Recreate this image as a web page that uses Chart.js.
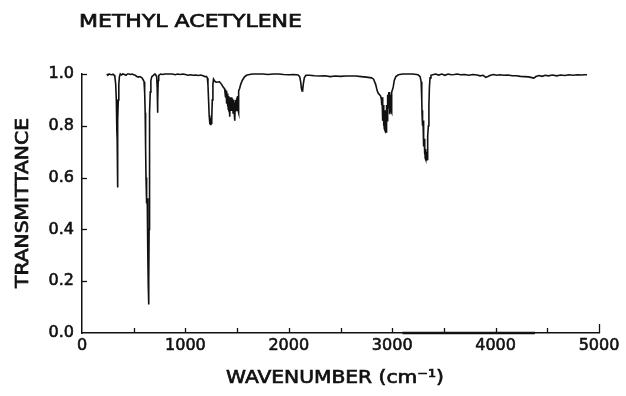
<!DOCTYPE html>
<html>
<head>
<meta charset="utf-8">
<title>Methyl acetylene IR spectrum</title>
<script src="https://cdn.jsdelivr.net/npm/chart.js@4/dist/chart.umd.min.js"></script>
<style>
  html, body { margin: 0; padding: 0; background: #fff; }
  canvas { display: block; }
</style>
</head>
<body>
<canvas id="spectrum" width="626" height="396"></canvas>
<script>
'use strict';

// ── Data ──────────────────────────────────────────────────────────────────
const CHART_TITLE = 'METHYL ACETYLENE';
const X_TITLE     = 'WAVENUMBER (cm⁻¹)';
const Y_TITLE     = 'TRANSMITTANCE';

const X_TICKS = [0, 1000, 2000, 3000, 4000, 5000];
const X_MINOR = [500, 1500, 2500, 3500, 4500];
const Y_TICKS = [0.0, 0.2, 0.4, 0.6, 0.8, 1.0];

// wavenumber (cm-1) — rows line up with TRANSMITTANCE rows below
const WAVENUMBER = [
  240, 250, 262, 275, 290, 300, 312, 318, 326, 332,
  336, 338, 340, 342, 344, 346, 348, 351, 356, 362,
  370, 380, 395, 410, 425, 440, 455, 470, 485, 500,
  515, 530, 545, 560, 580, 595, 600, 606, 611, 615,
  619, 623, 627, 631, 635, 638, 641, 644, 647, 649,
  651, 653, 656, 660, 666, 675, 690, 705, 715, 722,
  727, 730, 732, 734, 737, 742, 760, 780, 800, 825,
  850, 875, 900, 925, 950, 975, 1000, 1025, 1050, 1075,
  1100, 1125, 1150, 1170, 1190, 1205, 1212, 1218, 1224, 1230,
  1236, 1242, 1247, 1251, 1255, 1260, 1266, 1272, 1280, 1290,
  1300, 1330, 1350, 1365, 1375, 1380, 1384, 1387, 1390, 1393,
  1396, 1399, 1402, 1405, 1408, 1411, 1414, 1417, 1420, 1423,
  1426, 1429, 1431, 1434, 1437, 1440, 1443, 1446, 1449, 1452,
  1455, 1458, 1461, 1464, 1467, 1470, 1473, 1476, 1479, 1482,
  1485, 1488, 1491, 1494, 1497, 1500, 1503, 1506, 1509, 1512,
  1515, 1518, 1525, 1535, 1550, 1570, 1590, 1620, 1650, 1700,
  1750, 1800, 1850, 1900, 1950, 2000, 2050, 2090, 2105, 2115,
  2122, 2128, 2134, 2140, 2150, 2165, 2200, 2250, 2300, 2350,
  2400, 2450, 2500, 2550, 2600, 2650, 2700, 2750, 2800, 2820,
  2840, 2855, 2866, 2878, 2888, 2896, 2899, 2902, 2905, 2908,
  2911, 2914, 2917, 2920, 2923, 2926, 2929, 2932, 2935, 2938,
  2941, 2944, 2947, 2950, 2953, 2956, 2959, 2962, 2965, 2968,
  2971, 2974, 2977, 2980, 2983, 2986, 2989, 2992, 2995, 2998,
  3003, 3010, 3020, 3035, 3060, 3100, 3150, 3200, 3250, 3270,
  3280, 3286, 3289, 3292, 3295, 3298, 3301, 3304, 3307, 3310,
  3313, 3316, 3319, 3322, 3325, 3328, 3331, 3334, 3337, 3340,
  3343, 3346, 3350, 3355, 3360, 3366, 3375, 3400, 3420, 3450,
  3480, 3510, 3540, 3570, 3600, 3630, 3660, 3700, 3740, 3780,
  3820, 3850, 3880, 3905, 3925, 3950, 3980, 4010, 4040, 4080,
  4120, 4160, 4200, 4240, 4280, 4320, 4350, 4370, 4390, 4420,
  4450, 4480, 4510, 4550, 4590, 4630, 4670, 4710, 4750, 4790,
  4830, 4860, 4884
];

// transmittance (0..1)
const TRANSMITTANCE = [
  1.000, 0.995, 1.000, 0.998, 0.997, 0.999, 0.995, 0.990, 0.960, 0.900,
  0.850, 0.780, 0.750, 0.620, 0.562, 0.700, 0.820, 0.900, 0.960, 0.990,
  1.000, 0.996, 1.000, 0.998, 0.995, 1.000, 1.000, 0.998, 1.000, 0.997,
  0.995, 0.990, 0.988, 0.990, 0.985, 0.975, 0.970, 0.930, 0.850, 0.720,
  0.600, 0.520, 0.500, 0.520, 0.430, 0.300, 0.180, 0.110, 0.200, 0.400,
  0.600, 0.750, 0.850, 0.930, 0.975, 0.990, 0.995, 1.000, 0.995, 0.990,
  0.950, 0.870, 0.850, 0.900, 0.975, 0.995, 1.000, 0.998, 1.000, 1.000,
  1.000, 1.000, 0.997, 1.000, 0.998, 1.000, 0.998, 0.995, 0.997, 0.995,
  0.996, 0.994, 0.996, 0.993, 0.990, 0.990, 0.985, 0.960, 0.900, 0.840,
  0.810, 0.805, 0.830, 0.810, 0.830, 0.900, 0.960, 0.980, 0.975, 0.970,
  0.968, 0.970, 0.960, 0.950, 0.945, 0.940, 0.925, 0.940, 0.910, 0.935,
  0.900, 0.930, 0.885, 0.925, 0.875, 0.920, 0.865, 0.915, 0.860, 0.910,
  0.855, 0.900, 0.835, 0.905, 0.860, 0.910, 0.860, 0.910, 0.865, 0.905,
  0.860, 0.900, 0.850, 0.895, 0.855, 0.900, 0.845, 0.830, 0.820, 0.890,
  0.855, 0.900, 0.860, 0.905, 0.865, 0.910, 0.870, 0.915, 0.860, 0.850,
  0.920, 0.935, 0.945, 0.960, 0.975, 0.988, 0.995, 0.998, 1.000, 1.000,
  1.000, 0.998, 1.000, 1.000, 0.998, 0.997, 0.998, 0.996, 0.990, 0.970,
  0.945, 0.935, 0.938, 0.960, 0.985, 0.995, 0.995, 0.993, 0.992, 0.993,
  0.990, 0.992, 0.991, 0.992, 0.992, 0.992, 0.990, 0.988, 0.985, 0.980,
  0.960, 0.935, 0.925, 0.920, 0.915, 0.900, 0.880, 0.910, 0.860, 0.900,
  0.820, 0.880, 0.800, 0.860, 0.790, 0.850, 0.785, 0.860, 0.780, 0.840,
  0.776, 0.830, 0.880, 0.820, 0.890, 0.850, 0.920, 0.870, 0.930, 0.880,
  0.930, 0.850, 0.845, 0.910, 0.860, 0.920, 0.855, 0.850, 0.920, 0.930,
  0.940, 0.950, 0.975, 0.990, 0.997, 1.000, 1.000, 1.000, 0.997, 0.990,
  0.970, 0.900, 0.840, 0.860, 0.800, 0.820, 0.750, 0.780, 0.720, 0.750,
  0.690, 0.720, 0.675, 0.710, 0.670, 0.700, 0.665, 0.690, 0.670, 0.720,
  0.700, 0.760, 0.800, 0.880, 0.950, 0.985, 0.995, 0.998, 1.000, 0.996,
  1.000, 0.995, 1.000, 0.997, 0.998, 1.000, 0.997, 0.998, 0.995, 0.998,
  0.996, 0.993, 0.995, 0.987, 0.990, 0.995, 0.998, 0.995, 0.997, 0.995,
  0.996, 0.993, 0.993, 0.991, 0.990, 0.989, 0.986, 0.984, 0.990, 0.994,
  0.991, 0.995, 0.993, 0.996, 0.993, 0.996, 0.994, 0.997, 0.995, 0.997,
  0.996, 0.997, 0.997
];

// recorder zero trace that sits on the x axis between ~3100 and ~4380
const ZERO_TRACE_W = [3100, 4380];
const ZERO_TRACE_T = [0.0, 0.0];

// ── Style ─────────────────────────────────────────────────────────────────
const INK  = '#111111';
const FONT = '"DejaVu Sans", "Liberation Sans", Arial, sans-serif';

function toPoints(xs, ys) {
  return xs.map(function (x, i) { return { x: x, y: ys[i] }; });
}

// Draw text stretched to a fixed width (the scan uses an extended face).
// A thin stroke thickens the glyphs a little, like the photocopied original.
function drawWideText(ctx, text, cx, cy, width, size, angle) {
  ctx.save();
  ctx.font = size + 'px ' + FONT;
  const natural = ctx.measureText(text).width;
  ctx.translate(cx, cy);
  if (angle) ctx.rotate(angle);
  ctx.scale(width / natural, 1);
  ctx.textAlign = 'center';
  ctx.textBaseline = 'middle';
  ctx.fillStyle = INK;
  ctx.strokeStyle = INK;
  ctx.lineWidth = 0.7;
  ctx.fillText(text, 0, 0);
  ctx.strokeText(text, 0, 0);
  ctx.restore();
}

// Inward tick marks + titles, drawn over the library's axes.
const spectrumDecor = {
  id: 'spectrumDecor',
  beforeDraw(chart) {
    const ctx = chart.ctx;
    ctx.save();
    ctx.fillStyle = '#fff';
    ctx.fillRect(0, 0, chart.width, chart.height);
    ctx.restore();
  },
  afterDraw(chart) {
    const { ctx, scales } = chart;
    const x = scales.x;
    const y = scales.y;

    ctx.save();
    ctx.strokeStyle = INK;
    ctx.lineWidth = 1.3;

    X_TICKS.concat(X_MINOR).forEach(function (v) {
      if (v === 0) return;
      const px = Math.round(x.getPixelForValue(v)) + 0.5;
      ctx.beginPath();
      ctx.moveTo(px, y.bottom);
      ctx.lineTo(px, y.bottom - (v === 5000 ? 9 : 5));
      ctx.stroke();
    });

    Y_TICKS.forEach(function (v) {
      if (v === 0) return;
      const py = Math.round(y.getPixelForValue(v)) + 0.5;
      ctx.beginPath();
      ctx.moveTo(x.left, py);
      ctx.lineTo(x.left + 5, py);
      ctx.stroke();
    });
    ctx.restore();

    drawWideText(ctx, CHART_TITLE, 79 + 223 / 2, 22, 223, 18, 0);
    drawWideText(ctx, X_TITLE, 335, 378, 218, 18, 0);
    drawWideText(ctx, Y_TITLE, 23, 203, 170, 18, -Math.PI / 2);
  },
};

const tickFont = { family: FONT, size: 16 };

// ── Chart ─────────────────────────────────────────────────────────────────
new Chart(document.getElementById('spectrum'), {
  type: 'line',
  data: {
    datasets: [
      {
        label: 'Transmittance',
        data: toPoints(WAVENUMBER, TRANSMITTANCE),
        borderColor: INK,
        borderWidth: 1.6,
        pointRadius: 0,
        tension: 0,
        fill: false,
        clip: 5,
      },
      {
        label: 'Zero trace',
        data: toPoints(ZERO_TRACE_W, ZERO_TRACE_T),
        borderColor: INK,
        borderWidth: 2.4,
        pointRadius: 0,
        fill: false,
        clip: 5,
      },
    ],
  },
  options: {
    responsive: false,
    devicePixelRatio: 1,
    animation: false,
    parsing: false,
    layout: { padding: { top: 74, right: 27, bottom: 0, left: 0 } },
    plugins: {
      legend: { display: false },
      tooltip: { enabled: false },
      title: { display: false },
    },
    scales: {
      x: {
        type: 'linear',
        min: 0,
        max: 5000,
        afterFit: function (scale) { scale.height = 63; },
        afterBuildTicks: function (scale) {
          scale.ticks = X_TICKS.map(function (v) { return { value: v }; });
        },
        grid: { display: false, drawTicks: false },
        border: { display: true, color: INK, width: 1.5 },
        ticks: {
          color: INK,
          textStrokeColor: INK,
          textStrokeWidth: 0.6,
          padding: 3,
          maxRotation: 0,
          autoSkip: false,
          font: tickFont,
          callback: function (v) { return String(v); },
        },
      },
      y: {
        type: 'linear',
        min: 0,
        max: 1,
        afterFit: function (scale) { scale.width = 82; },
        afterBuildTicks: function (scale) {
          scale.ticks = Y_TICKS.map(function (v) { return { value: v }; });
        },
        grid: { display: false, drawTicks: false },
        border: { display: true, color: INK, width: 1.5 },
        ticks: {
          color: INK,
          textStrokeColor: INK,
          textStrokeWidth: 0.6,
          padding: 8,
          font: tickFont,
          callback: function (v) { return Number(v).toFixed(1); },
        },
      },
    },
  },
  plugins: [spectrumDecor],
});
</script>
</body>
</html>
